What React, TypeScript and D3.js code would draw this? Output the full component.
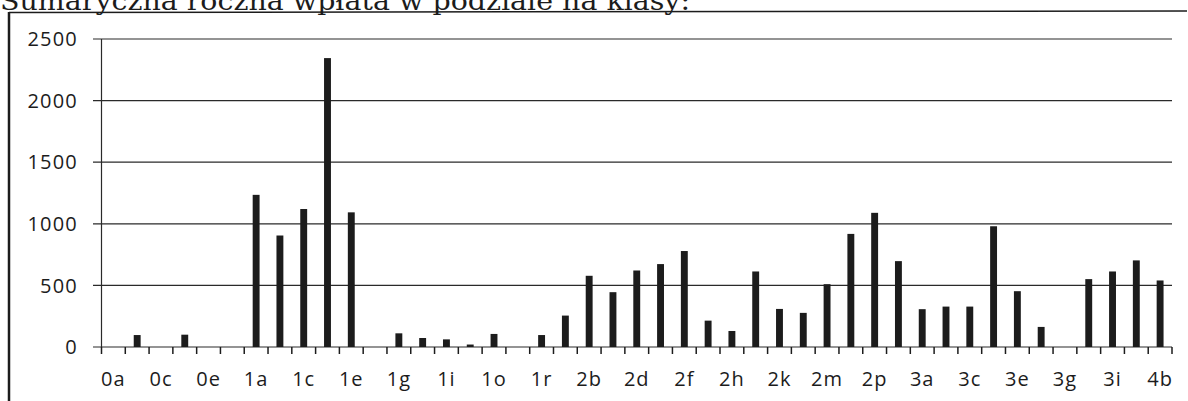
import React from "react";
import * as d3 from "d3";

const categories = [
  "0a","0b","0c","0d","0e","0f","1a","1b","1c","1d","1e","1f","1g","1h","1i","1k",
  "1o","1p","1r","2a","2b","2c","2d","2e","2f","2g","2h","2i","2k","2l","2m","2n",
  "2p","2r","3a","3b","3c","3d","3e","3f","3g","3h","3i","4a","4b"
];
const values = [
  0, 97, 0, 100, 0, 0, 1235, 905, 1120, 2345, 1093, 0, 111, 73, 62, 20,
  106, 0, 97, 255, 578, 445, 621, 673, 779, 214, 130, 613, 309, 277, 510, 918,
  1089, 697, 307, 328, 328, 980, 453, 163, 0, 551, 613, 703, 540
];
const yTicks = [0, 500, 1000, 1500, 2000, 2500];
const title = "Sumaryczna roczna wpłata w podziale na klasy:";

export default function App() {
  const W = 1188, H = 401;
  const x0 = 101.5, x1 = 1172;
  const x = d3.scaleBand<string>().domain(categories).range([x0, x1]).paddingInner(0.71).paddingOuter(0.355);
  const y = d3.scaleLinear().domain([0, 2500]).range([347, 39]);
  const step = x.step();
  const ink = "#1c1c1c";
  const font = "'Open Sans', sans-serif";
  return (
    <svg width={W} height={H} style={{ position: "absolute", left: 0, top: 0, background: "#fff" }}>
      <text x={0} y={10} fontFamily="'DejaVu Serif', serif" fontSize={26} fill={ink} textLength={690} lengthAdjust="spacingAndGlyphs">{title}</text>
      {/* frame */}
      <line x1={9} x2={1187} y1={12.5} y2={11} stroke={ink} strokeWidth={1.5} />
      <line x1={9} x2={9} y1={12} y2={H} stroke={ink} strokeWidth={2.5} />
      {/* gridlines + y labels */}
      {yTicks.map((t) => (
        <g key={t}>
          <line x1={93} x2={x1} y1={y(t)} y2={y(t)} stroke="#2a2a2a" strokeWidth={1.2} />
          <text x={78} y={y(t)} dy="0.36em" textAnchor="end" fontFamily={font} fontSize={20} letterSpacing={1.2} fill={ink}>{t}</text>
        </g>
      ))}
      {/* y axis */}
      <line x1={x0} x2={x0} y1={y(2500)} y2={y(0)} stroke="#2a2a2a" strokeWidth={1.2} />
      {/* x ticks */}
      {d3.range(categories.length + 1).map((i) => (
        <line key={i} x1={x0 + i * step} x2={x0 + i * step} y1={y(0)} y2={y(0) + 7} stroke={ink} strokeWidth={1.5} />
      ))}
      {/* bars */}
      {categories.map((c, i) => (
        values[i] > 0 ? (
          <rect key={c} x={x(c)!} y={y(values[i])} width={x.bandwidth()} height={y(0) - y(values[i])} fill={ink} />
        ) : null
      ))}
      {/* x labels */}
      {categories.map((c, i) => (
        i % 2 === 0 ? (
          <text key={c} x={x(c)! + x.bandwidth() / 2} y={386} textAnchor="middle" fontFamily={font} fontSize={20} letterSpacing={1} fill={ink}>{c}</text>
        ) : null
      ))}
    </svg>
  );
}
